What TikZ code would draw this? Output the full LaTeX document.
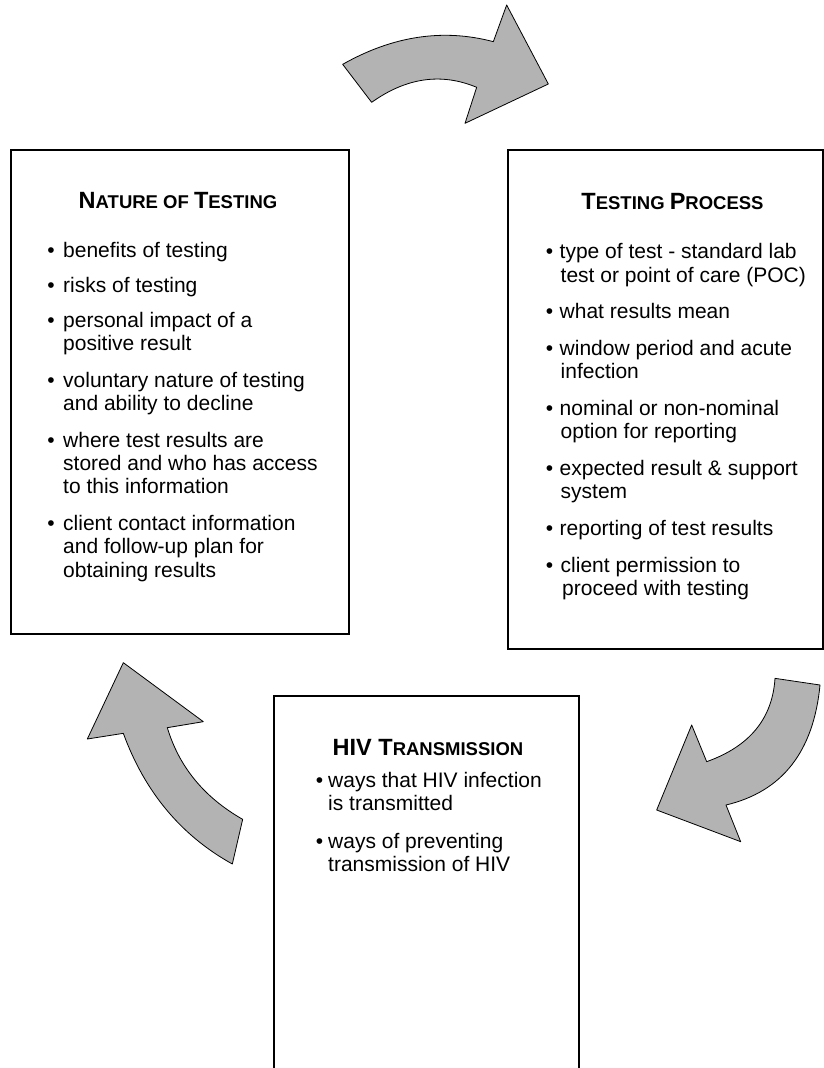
\documentclass[tikz,border=0pt]{standalone}
\usepackage{fontspec}
\setmainfont{Liberation Sans}
\definecolor{arrgray}{RGB}{179,179,179}
\newcommand{\hdbig}[1]{{\fontsize{23.5}{23.5}\selectfont #1}}
\newcommand{\hdsmall}[1]{{\fontsize{18.5}{18.5}\selectfont #1}}
\begin{document}
\begin{tikzpicture}[x=1pt,y=-1pt,
  box/.style={draw=black, line width=1.5pt, inner sep=0pt, anchor=north west},
  arr/.style={draw=black, line width=0.8pt, fill=arrgray, line join=round},
  txt/.style={inner sep=0pt, anchor=base west, font=\fontsize{21}{24}\selectfont},
  bul/.style={inner sep=0pt, anchor=base, font=\fontsize{21}{24}\selectfont},
  hd/.style={inner sep=0pt, anchor=base, font=\bfseries}]
\useasboundingbox (0,0) rectangle (823,1068);

% boxes
\node[box, minimum width=338pt, minimum height=484pt] (nature) at (10,149) {};
\node[box, minimum width=315pt, minimum height=499pt] (process) at (507,149) {};
\node[box, minimum width=305pt, minimum height=390pt] (hiv) at (273,695) {};

% arrows
\begin{scope}[shift={(330,0)}, scale=1/3]
\draw[arr] (38,193) .. controls (188.7,107.7) and (339.3,85) .. (490,125)
  -- (530,15) -- (655,252) -- (405,370) -- (440,262)
  .. controls (334.3,217.7) and (229.3,232.7) .. (125,307) -- cycle;
\end{scope}
\begin{scope}[shift={(650,670)}, scale=1/3]
\draw[arr] (510,45) -- (375,25) .. controls (367.3,145.7) and (299,229) .. (170,275)
  -- (125,165) -- (20,420) -- (272,515) -- (228,405)
  .. controls (396.7,365) and (490.7,245) .. (510,45) -- cycle;
\end{scope}
\begin{scope}[shift={(70,660)}, scale=1/3]
\draw[arr] (160,8) -- (400,185) -- (292,203)
  .. controls (327.3,320.7) and (402.7,412.3) .. (518,478) -- (487,612)
  .. controls (333.3,526.7) and (224.3,396) .. (160,220) -- (52,237) -- cycle;
\end{scope}

% headings
\node[hd] (h1) at (178,208) {\hdbig{N}\hdsmall{ATURE OF }\hdbig{T}\hdsmall{ESTING}};
\node[hd] (h2) at (672.5,209) {\hdbig{T}\hdsmall{ESTING }\hdbig{P}\hdsmall{ROCESS}};
\node[hd] (h3) at (428,755) {\hdbig{HIV T}\hdsmall{RANSMISSION}};

% left box
\node[bul] (lb1) at (51,257) {•};
\node[txt] (l1) at (63,257) {benefits of testing};
\node[bul] (lb2) at (51,292) {•};
\node[txt] (l2) at (63,292) {risks of testing};
\node[bul] (lb3) at (51,327) {•};
\node[txt] (l3a) at (63,327) {personal impact of a};
\node[txt] (l3b) at (63,350) {positive result};
\node[bul] (lb4) at (51,387) {•};
\node[txt] (l4a) at (63,387) {voluntary nature of testing};
\node[txt] (l4b) at (63,410) {and ability to decline};
\node[bul] (lb5) at (51,447) {•};
\node[txt] (l5a) at (63,447) {where test results are};
\node[txt] (l5b) at (63,470) {stored and who has access};
\node[txt] (l5c) at (63,493) {to this information};
\node[bul] (lb6) at (51,530) {•};
\node[txt] (l6a) at (63,530) {client contact information};
\node[txt] (l6b) at (63,553) {and follow-up plan for};
\node[txt] (l6c) at (63,577) {obtaining results};

% right box
\node[bul] (rb1) at (549.5,258) {•};
\node[txt] (r1a) at (559.5,258) {type of test - standard lab};
\node[txt] (r1b) at (560.5,282) {test or point of care (POC)};
\node[bul] (rb2) at (549.5,318) {•};
\node[txt] (r2) at (559.5,318) {what results mean};
\node[bul] (rb3) at (549.5,355) {•};
\node[txt] (r3a) at (559.5,355) {window period and acute};
\node[txt] (r3b) at (560.5,378) {infection};
\node[bul] (rb4) at (549.5,415) {•};
\node[txt] (r4a) at (559.5,415) {nominal or non-nominal};
\node[txt] (r4b) at (560.5,438) {option for reporting};
\node[bul] (rb5) at (549.5,475) {•};
\node[txt] (r5a) at (559.5,475) {expected result \& support};
\node[txt] (r5b) at (560.5,498) {system};
\node[bul] (rb6) at (549.5,535) {•};
\node[txt] (r6) at (559.5,535) {reporting of test results};
\node[bul] (rb7) at (549.5,572) {•};
\node[txt] (r7a) at (560.5,572) {client permission to};
\node[txt] (r7b) at (562,595) {proceed with testing};

% bottom box
\node[bul] (bb1) at (319.5,787) {•};
\node[txt] (b1a) at (328,787) {ways that HIV infection};
\node[txt] (b1b) at (328,810) {is transmitted};
\node[bul] (bb2) at (319.5,848) {•};
\node[txt] (b2a) at (328,848) {ways of preventing};
\node[txt] (b2b) at (328,871) {transmission of HIV};
\end{tikzpicture}
\end{document}
